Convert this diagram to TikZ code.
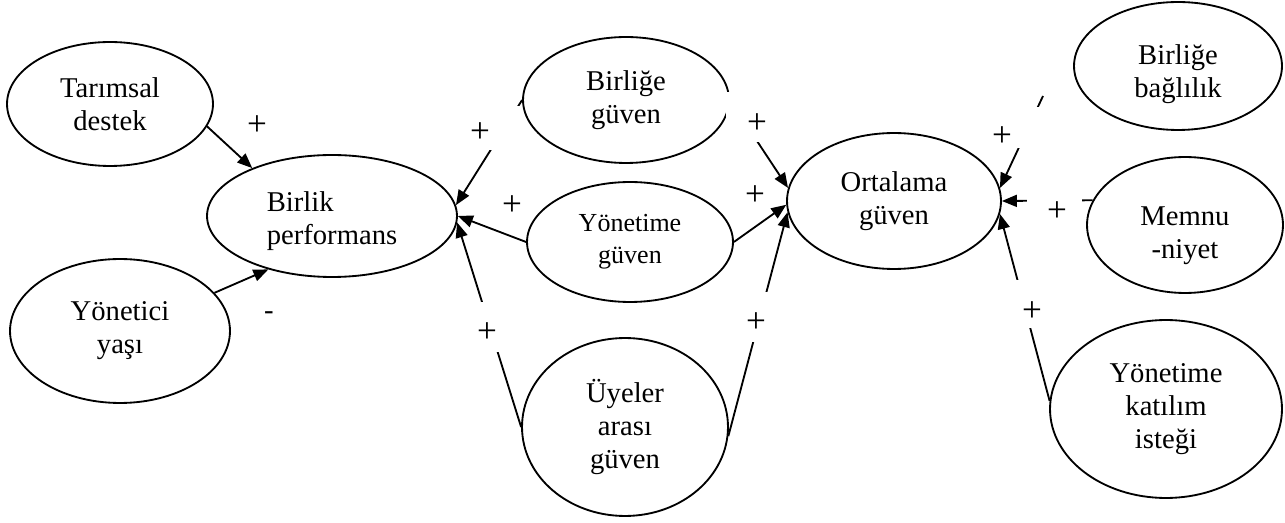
\documentclass[tikz,border=0pt]{standalone}
\usepackage{fontspec}
\setmainfont{Liberation Serif}
\usetikzlibrary{shapes.geometric, arrows.meta}
\tikzset{>={Triangle[length=0.3cm, width=0.24cm]}}
\newcommand{\bigtext}{\fontsize{16.3pt}{18.8pt}\selectfont}
\newcommand{\smalltext}{\fontsize{14.8pt}{18.2pt}\selectfont}
\newcommand{\signtext}{\fontsize{20pt}{20pt}\selectfont}

\begin{document}
\begin{tikzpicture}[x=0.02cm, y=-0.02cm, line width=1.05pt,
    oval/.style={ellipse, draw, inner sep=0pt, align=center, font=\bigtext},
    cover/.style={fill=white, inner sep=0pt},
    sign/.style={inner sep=0pt, font=\signtext}]
    \useasboundingbox (0,0) rectangle (1285,523);
    \node[oval, minimum width=4.12cm, minimum height=2.48cm] (TD) at (110,104) {Tarımsal\\destek};
    \node[oval, minimum width=4.4cm, minimum height=2.88cm] (YY) at (120,331) {Yönetici\\yaşı};
    \node[oval, align=left, minimum width=5cm, minimum height=2.44cm] (BP) at (332,216) {\rule{0pt}{0.6cm}Birlik\\performans};
    \node[oval, minimum width=4.12cm, minimum height=2.52cm] (BG) at (626,100) {Birliğe\\güven};
    \node[oval, font=\smalltext, minimum width=4.12cm, minimum height=2.4cm] (YG) at (630,242) {Yönetime\\güven};
    \node[oval, minimum width=4.12cm, minimum height=3.56cm] (UA) at (625,427) {Üyeler\\arası\\güven};
    \node[oval, minimum width=4.28cm, minimum height=2.72cm] (OG) at (894,201) {Ortalama\\güven};
    \node[oval, minimum width=4.16cm, minimum height=2.56cm] (BB) at (1178,66) {\rule{0pt}{0.72cm}Birliğe\\bağlılık};
    \node[oval, minimum width=3.92cm, minimum height=2.72cm] (MN) at (1185,225) {\rule{0pt}{0.8cm}Memnu\\-niyet};
    \node[oval, minimum width=4.64cm, minimum height=3.56cm] (YK) at (1166,409) {Yönetime\\katılım\\isteği};
    \coordinate (BBend) at (1043,96);
    \draw[->] (TD.-13) -- (BP.149);
    \draw[->] (YY.22) -- (BP.220);
    \draw[->] (BG.west) -- (BP.5);
    \draw[->] (YG.west) -- (BP.east);
    \draw[->] (UA.west) -- (BP.-3);
    \draw[->] (BG.east) -- (OG.173);
    \draw[->] (YG.east) -- (OG.182);
    \draw[->] (UA.-5) -- (OG.186);
    \draw[->] (BBend) -- (OG.7);
    \draw[->] (MN.165) -- (OG.east);
    \draw[->] (YK.176) -- (OG.-7);
    \node[cover, minimum width=1.16cm, minimum height=0.88cm] (gapA) at (491,128) {};
    \node[cover, minimum width=1.28cm, minimum height=1cm] (gapB) at (758,117) {};
    \node[cover, minimum width=1.08cm, minimum height=1cm] (gapC) at (485,327) {};
    \node[cover, minimum width=1.28cm, minimum height=1cm] (gapD) at (758,317) {};
    \node[cover, minimum width=1.08cm, minimum height=0.82cm] (gapE) at (1012,127.5) {};
    \node[cover, minimum width=1.1cm, minimum height=1cm] (gapF) at (1054.5,210) {};
    \node[cover, minimum width=0.9cm, minimum height=0.96cm] (gapG) at (1032.5,304) {};
    \node[sign] (pTD) at (257,126) {+};
    \node[sign, font=\bigtext] (pYY) at (269,316) {-};
    \node[sign] (pBG) at (480,133) {+};
    \node[sign] (pYG) at (512,206) {+};
    \node[sign] (pUA) at (487,333) {+};
    \node[sign] (qBG) at (757,124) {+};
    \node[sign] (qYG) at (755,196) {+};
    \node[sign] (qUA) at (756,323) {+};
    \node[sign] (pBB) at (1002,137) {+};
    \node[sign] (pMN) at (1057,212) {+};
    \node[sign] (pYK) at (1032,312) {+};
\end{tikzpicture}
\end{document}
